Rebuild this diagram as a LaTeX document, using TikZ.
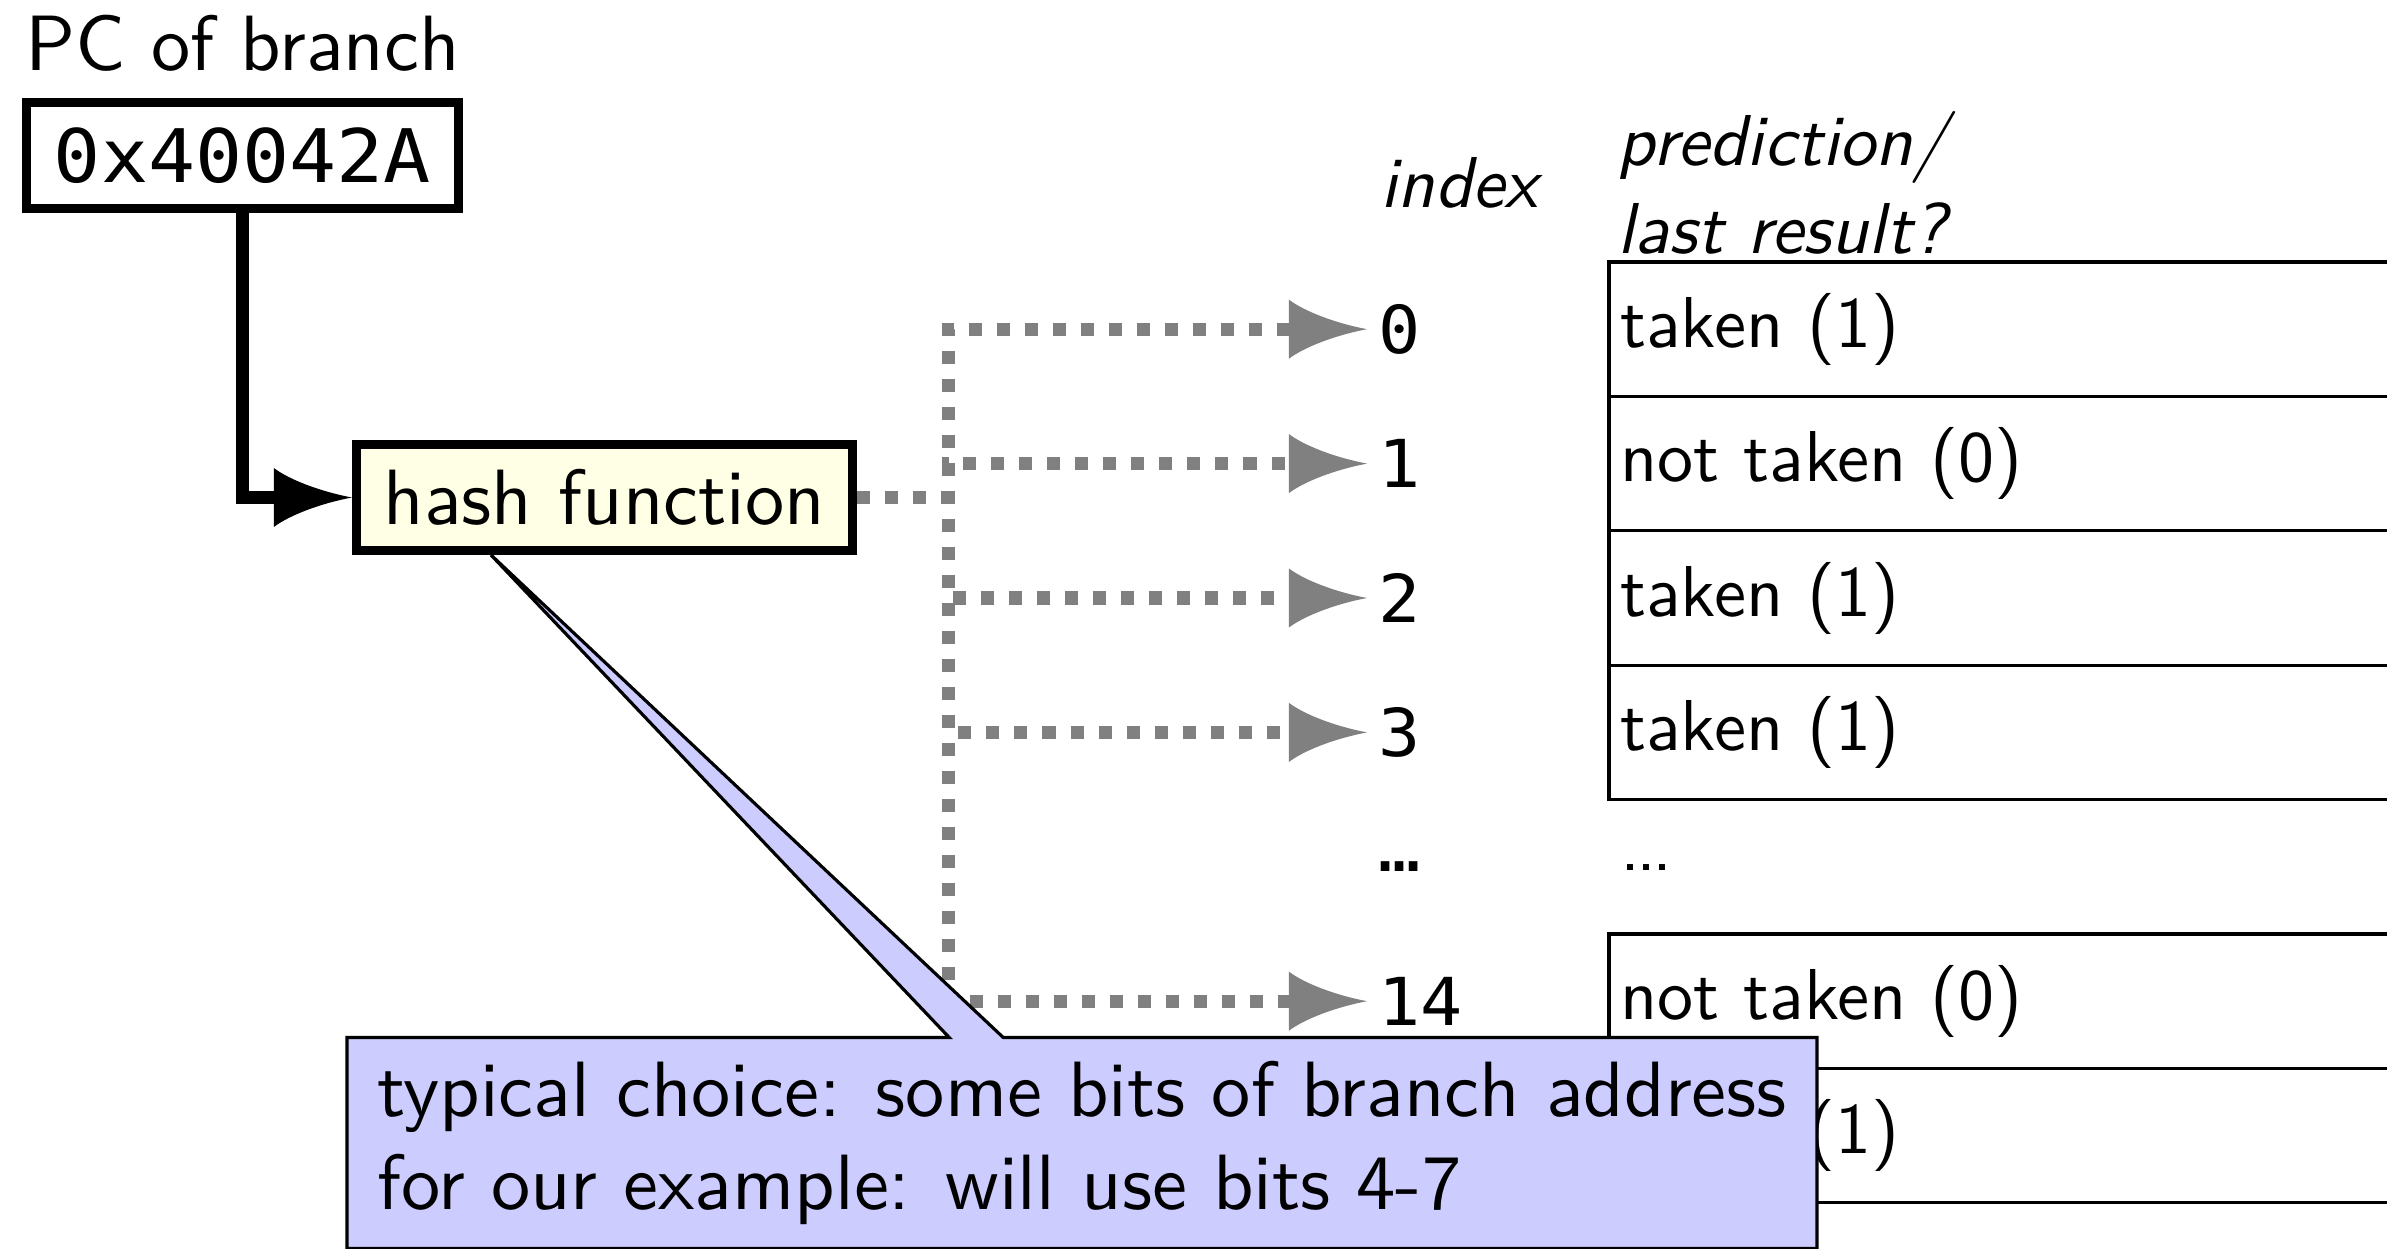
\documentclass[tikz,border=0pt]{standalone}
\usepackage{fontspec}
\setsansfont{lmsans10}[Extension=.otf, UprightFont=*-regular, ItalicFont=*-oblique]
\setmonofont{DejaVu Sans Mono}[FakeStretch=1.06]
\renewcommand{\familydefault}{\sfdefault}
\usetikzlibrary{arrows.meta,shapes.callouts}
\definecolor{hashyellow}{RGB}{255,255,230}
\pgfdeclarearrow{
  name = Fin,
  parameters = {\the\pgfarrowlength,\the\pgfarrowwidth},
  setup code = {
    \pgfarrowssettipend{0pt}
    \pgfarrowssetlineend{-.8\pgfarrowlength}
    \pgfarrowssetbackend{-\pgfarrowlength}
    \pgfarrowshullpoint{0pt}{0pt}
    \pgfarrowsupperhullpoint{-\pgfarrowlength}{.5\pgfarrowwidth}
    \pgfarrowssavethe\pgfarrowlength
    \pgfarrowssavethe\pgfarrowwidth
  },
  drawing code = {
    \pgfpathmoveto{\pgfqpoint{0pt}{0pt}}
    \pgfpathcurveto{\pgfqpoint{-.4\pgfarrowlength}{.1\pgfarrowwidth}}{\pgfqpoint{-.8\pgfarrowlength}{.3\pgfarrowwidth}}{\pgfqpoint{-\pgfarrowlength}{.5\pgfarrowwidth}}
    \pgfpathlineto{\pgfqpoint{-\pgfarrowlength}{-.5\pgfarrowwidth}}
    \pgfpathcurveto{\pgfqpoint{-.8\pgfarrowlength}{-.3\pgfarrowwidth}}{\pgfqpoint{-.4\pgfarrowlength}{-.1\pgfarrowwidth}}{\pgfqpoint{0pt}{0pt}}
    \pgfpathclose
    \pgfusepathqfill
  },
  defaults = {length = 0.78cm, width = 0.59cm}
}
\begin{document}
\begin{tikzpicture}[x=0.01cm, y=-0.01cm,
  mainf/.style={font=\fontsize{22.3}{26.7}\selectfont},
  tabf/.style={font=\fontsize{20.5}{25}\selectfont},
  hdr/.style={font=\fontsize{20.5}{25}\selectfont\itshape, anchor=base west, inner sep=0pt},
  pcbox/.style={draw, line width=0.09cm, minimum width=4.32cm, minimum height=1.06cm,
    inner sep=0pt, font=\fontsize{21}{25}\selectfont\ttfamily},
  hashbox/.style={draw, line width=0.09cm, fill=hashyellow, minimum width=4.96cm,
    minimum height=1.06cm, inner sep=0pt, mainf},
  tablerow/.style={draw, line width=0.9pt, minimum height=1.344cm, text width=8.7cm,
    inner xsep=0.11cm, inner ysep=0pt, outer sep=0pt, align=left, anchor=north west, tabf},
  idx/.style={anchor=west, inner xsep=0.11cm, inner ysep=0pt, outer sep=0pt,
    font=\fontsize{18.8}{22}\selectfont\ttfamily},
  garrow/.style={draw=gray, line width=0.13cm, dash pattern=on 0.13cm off 0.15cm,
    -{Fin[color=gray, fill=gray]}},
  barrow/.style={draw=black, line width=0.12cm, -{Fin}},
  note/.style={rectangle callout, draw, line width=0.9pt, fill=blue!20,
    callout pointer width=0.54cm, minimum width=14.69cm, minimum height=2.11cm,
    inner sep=0pt, align=left, mainf}
]
\useasboundingbox (0,0) rectangle (2387,1249);
\clip (0,0) rectangle (2387,1249);

% left part
\node[mainf, anchor=base, inner sep=0pt] (pclabel) at (242.5,71) {PC of branch};
\node[pcbox] (pc) at (242.5,155.5) {0x40042A};
\node[hashbox] (hash) at (604.5,497.5) {hash function};
\draw[barrow] (pc.south) |- (hash.west);

% table
\node[tablerow] (r0)  at (1609,262)    {taken (1)};
\node[tablerow] (r1)  at (1609,396.4)  {not taken (0)};
\node[tablerow] (r2)  at (1609,530.8)  {taken (1)};
\node[tablerow] (r3)  at (1609,665.2)  {taken (1)};
\node[tabf, anchor=base west, inner sep=0pt] (tdots) at (1620,870) {.\kern-0.06em.\kern-0.06em.};
\node[tablerow] (r14) at (1609,934)    {not taken (0)};
\node[tablerow] (r15) at (1609,1068.4) {taken (1)};

% headers
\node[hdr] (hidx)  at (1380,208) {index};
\node[hdr] (hpred) at (1617,166) {prediction/};
\node[hdr] (hlast) at (1617,254) {last result?};

% index labels
\node[idx] (i0)  at (1367,329.2)  {0};
\node[idx] (i1)  at (1367,463.6)  {1};
\node[idx] (i2)  at (1367,598)    {2};
\node[idx] (i3)  at (1367,732.4)  {3};
\node[idx] (idots) at (1367,866.8) {…};
\node[idx] (i14) at (1367,1001.2) {14};

% dotted connectors
\coordinate (trunk) at (948,497.5);
\foreach \k in {0,1,2,3,14}{
  \draw[garrow] (hash.east) -- (trunk) |- (i\k.west);
}

% callout
\coordinate (ptip) at (491,555);
\node[note, callout absolute pointer={(ptip)}] (callout) at (1082,1143)
  {typical choice: some bits of branch address\\for our example: will use bits 4-7};
\end{tikzpicture}
\end{document}
